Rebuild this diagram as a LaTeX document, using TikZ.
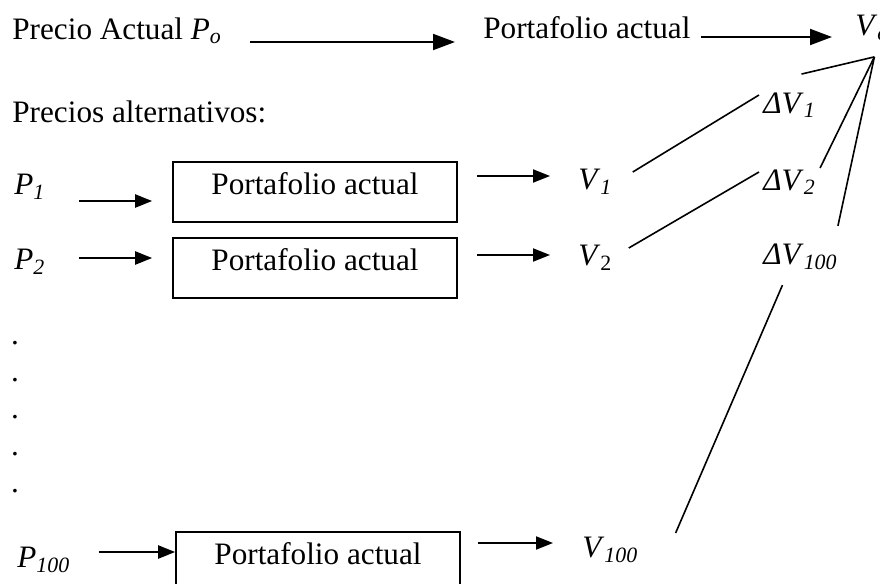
\documentclass[tikz,border=0pt]{standalone}
\usepackage{fontspec}
\setmainfont{Liberation Serif}
\usepackage{tikz}
\usetikzlibrary{arrows.meta,calc}
\tikzstyle{txt} = [inner sep=0pt]
\tikzstyle{port} = [rectangle, draw, line width=0.8pt, minimum width=142pt, minimum height=30pt, inner sep=0pt, text height=11pt, text depth=9pt]
\tikzstyle{big} = [-{Triangle[length=11pt,width=8pt]}, line width=1pt]
\tikzstyle{small} = [-{Triangle[length=8.5pt,width=6.5pt]}, line width=1pt]
\tikzstyle{ln} = [line width=0.8pt]
\newcommand{\Pv}[1]{\textit{P}\textsubscript{\textit{#1}}}
\newcommand{\Vv}[1]{\textit{V}\textsubscript{\textit{#1}}}
\newcommand{\dVv}[1]{\textit{ΔV}\textsubscript{\textit{#1}}}

\begin{document}
\begin{tikzpicture}[x=0.5pt,y=-0.5pt,font=\fontsize{15.6}{19}\selectfont]
  \useasboundingbox (0,0) rectangle (880,584);
  \node[txt,anchor=west] (po) at (12,31) {Precio Actual \Pv{o}};
  \node[txt,anchor=west] (port0) at (483,28) {Portafolio actual};
  \node[txt,anchor=west] (vo) at (855,28) {\Vv{o}};
  \node[txt,anchor=west] (alt) at (12,112) {Precios alternativos:};

  \node[txt,anchor=west] (p1) at (14,187) {\Pv{1}};
  \node[port] (box1) at (315,192) {Portafolio actual};
  \node[txt,anchor=west] (v1) at (578,182) {\Vv{1}};
  \node[txt,anchor=west] (p2) at (14,262) {\Pv{2}};
  \node[port] (box2) at (315,268) {Portafolio actual};
  \node[txt,anchor=west] (v2) at (578,258) {\textit{V}\textsubscript{2}};
  \foreach \i/\y in {1/343,2/380,3/417,4/454,5/491}
    \node[txt] (dot\i) at (15,\y) {.};
  \node[txt,anchor=west] (p100) at (17,560) {\Pv{100}};
  \node[port] (box3) at (318,562) {Portafolio actual};
  \node[txt,anchor=west] (v100) at (582,550) {\Vv{100}};

  \node[txt,anchor=west] (dv1) at (763,105) {\dVv{1}};
  \node[txt,anchor=west] (dv2) at (763,182) {\dVv{2}};
  \node[txt,anchor=west] (dv100) at (763,257) {\dVv{100}};
  \coordinate (hub) at ($(vo.south)+(2,16)$);

  \draw[big] ($(po.east)+(28,11)$) -- ($(port0.west)+(-28,14)$);
  \draw[big] ($(port0.east)+(10,9)$) -- ($(vo.west)+(-23,9)$);
  \draw[small] ($(p1.east)+(33,14)$) -- ($(box1.west)+(-20,9)$);
  \draw[small] ($(box1.east)+(19,-16)$) -- ($(v1.west)+(-28,-6)$);
  \draw[small] ($(p2.east)+(33,-4)$) -- ($(box2.west)+(-20,-10)$);
  \draw[small] ($(box2.east)+(19,-13)$) -- ($(v2.west)+(-28,-3)$);
  \draw[small] ($(p100.east)+(28,-8)$) -- ($(box3.west)+(0,-10)$);
  \draw[small] ($(box3.east)+(17,-19)$) -- ($(v100.west)+(-29,-7)$);

  \draw[ln] ($(v1.east)+(20,-10)$) -- ($(dv1.west)+(-4,-10)$);
  \draw[ln] ($(v2.east)+(16,-10)$) -- ($(dv2.west)+(-4,-10)$);
  \draw[ln] ($(v100.east)+(37,-17)$) -- ($(dv100.south)+(-18,15)$);
  \draw[ln] (hub) -- ($(dv1.north)+(12,-18)$);
  \draw[ln] (hub) -- ($(dv2.east)+(4,-14)$);
  \draw[ln] (hub) -- ($(dv100.north east)+(0,-18)$);
\end{tikzpicture}
\end{document}
